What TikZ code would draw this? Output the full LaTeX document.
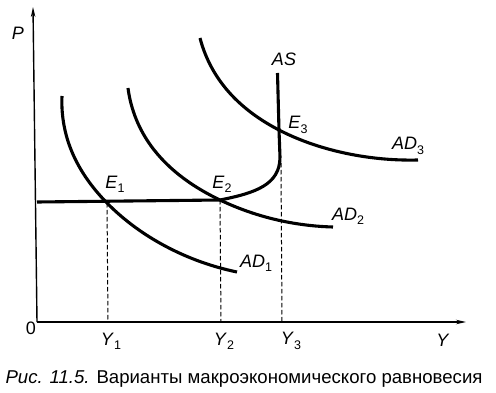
\documentclass[tikz,border=0pt]{standalone}
\usepackage{fontspec}
\setmainfont{Liberation Sans}
\usetikzlibrary{arrows.meta,hobby}
\newcommand\sublab[2]{\textit{#1}\raisebox{-0.45ex}{\fontsize{12.5}{12.5}\selectfont #2}}
\begin{document}
\begin{tikzpicture}[x=1pt,y=-1pt,
  axis/.style={line width=1.4pt,-{Stealth[length=10pt,width=4.5pt]}},
  curve/.style={line width=3.1pt},
  guide/.style={line width=1pt,dash pattern=on 4.5pt off 2.5pt},
  lab/.style={inner sep=0pt,font=\fontsize{18}{18}\selectfont},
  captext/.style={inner sep=0pt,font=\fontsize{18.6}{19}\selectfont}]
\useasboundingbox (0,0) rectangle (496,393);
% axes
\coordinate (O) at (37,322);
\coordinate (Ytop) at (33,7);
\coordinate (Xend) at (466,322);
\draw[axis] (O) -- (Ytop);
\draw[axis] (O) -- (Xend);
% equilibrium points
\coordinate (E1) at (107,203);
\coordinate (E2) at (220,200);
\coordinate (E3) at (279,130);
\coordinate (K) at (281,163);
\coordinate (F1) at (108,322);
\coordinate (F2) at (221,322);
\coordinate (F3) at (282,322);
% dashed guides
\draw[guide] (E1) -- (F1);
\draw[guide] (E2) -- (F2);
\draw[guide] (K) -- (F3);
% AD curves
\draw[curve,use Hobby shortcut] (62,96) .. (70,147) .. (E1) .. (167,247) .. (237,272);
\draw[curve,use Hobby shortcut] (128,88) .. (147,140) .. (E2) .. (287,222) .. (333,227);
\draw[curve,use Hobby shortcut] (200,38) .. (223,85) .. (E3) .. (340,152) .. (418,160);
% AS curve
\draw[curve,line join=round] (37,202) -- (E2) .. controls (255,193) and (280,185) .. (280,157) -- (E3) -- (277.5,73);
% labels
\node[lab] (P) at (18,33) {\textit{P}};
\node[lab] (zero) at (31,328) {0};
\node[lab] (Y) at (443,340) {\textit{Y}};
\node[lab] (Y1) at (111,341) {\sublab{Y}{1}};
\node[lab] (Y2) at (224,341) {\sublab{Y}{2}};
\node[lab] (Y3) at (291,341) {\sublab{Y}{3}};
\node[lab] (AS) at (284,59) {\textit{AS}};
\node[lab] (lE1) at (115,184) {\sublab{E}{1}};
\node[lab] (lE2) at (222,184) {\sublab{E}{2}};
\node[lab] (lE3) at (298,125) {\sublab{E}{3}};
\node[lab] (AD1) at (256,263) {\sublab{AD}{1}};
\node[lab] (AD2) at (348,216) {\sublab{AD}{2}};
\node[lab] (AD3) at (408,146) {\sublab{AD}{3}};
\node[captext] (caption) at (244,379) {\textit{Рис. 11.5.} Варианты макроэкономического равновесия};
\end{tikzpicture}
\end{document}
